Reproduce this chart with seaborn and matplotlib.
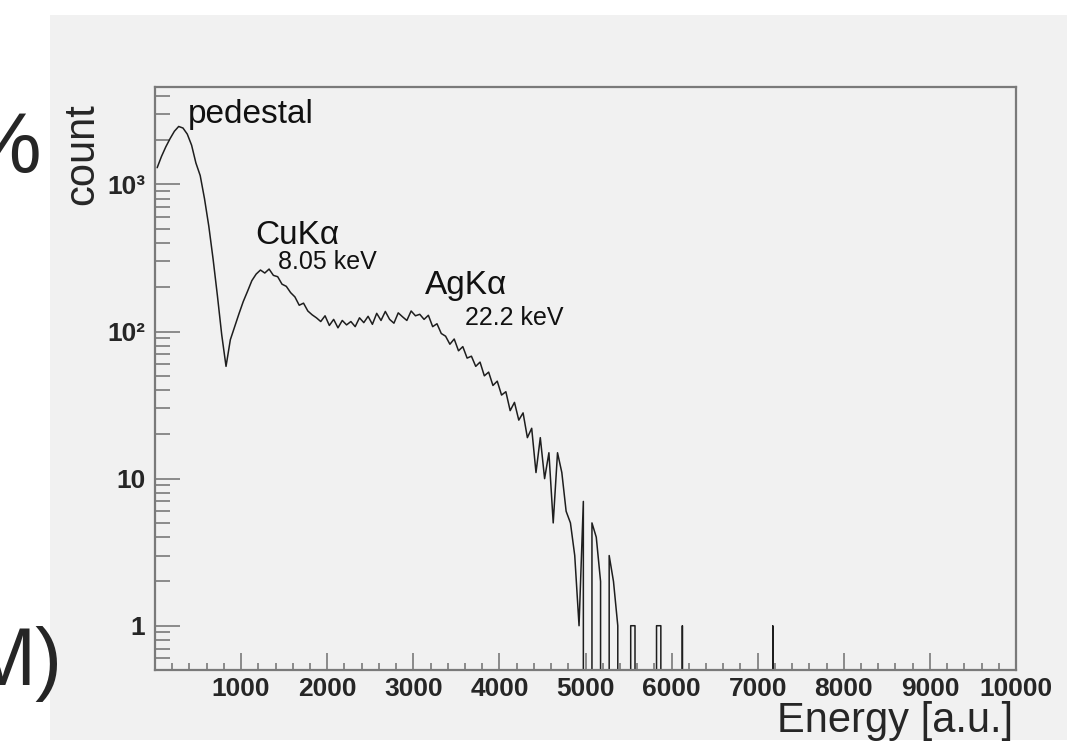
import numpy as np
import pandas as pd
import matplotlib
matplotlib.use("Agg")
import matplotlib.pyplot as plt
from matplotlib.patches import Rectangle
from matplotlib.ticker import FixedLocator, MultipleLocator, LogLocator, NullFormatter
import seaborn as sns

# ---------------- data (counts per 50-unit energy bin, 0..10000) ----------------
bin_width = 50
counts = [
    1300, 1550, 1800, 2050, 2300, 2480, 2420, 2200, 1850, 1400,   # 0-500
    1150, 800, 520, 310, 175, 95, 58, 88, 108, 132,              # 500-1000
    160, 188, 222, 246, 262, 250, 266, 241, 236, 210,            # 1000-1500
    203, 184, 172, 151, 156, 138, 130, 124, 117, 128,            # 1500-2000
    110, 121, 106, 119, 111, 117, 108, 124, 115, 127,            # 2000-2500
    112, 133, 119, 137, 121, 114, 134, 126, 119, 138,            # 2500-3000
    128, 131, 121, 129, 108, 113, 97, 93, 82, 89,                # 3000-3500
    74, 79, 66, 68, 58, 62, 50, 53, 43, 46,                      # 3500-4000
    37, 39, 29, 33, 25, 28, 19, 22, 11, 19,                      # 4000-4500
    10, 15, 5, 15, 11, 6, 5, 3, 1, 7,                            # 4500-5000
    0, 5, 4, 2, 0, 3, 2, 1, 0, 0,                                # 5000-5500
    1, 1, 0, 0, 0, 0, 1, 1, 0, 0,                                # 5500-6000
    0, 0, 1, 0, 0, 0, 0, 0, 0, 0,                                # 6000-6500
    0, 0, 0, 0, 0, 0, 0, 0, 0, 0,                                # 6500-7000
    0, 0, 0, 1, 0, 0, 0, 0, 0, 0,                                # 7000-7500
    0, 0, 0, 0, 0, 0, 0, 0, 0, 0,                                # 7500-8000
    0, 0, 0, 0, 0, 0, 0, 0, 0, 0,                                # 8000-8500
    0, 0, 0, 0, 0, 0, 0, 0, 0, 0,                                # 8500-9000
    0, 0, 0, 0, 0, 0, 0, 0, 0, 0,                                # 9000-9500
    0, 0, 0, 0, 0, 0, 0, 0, 0, 0,                                # 9500-10000
]
x_ticks = [1000, 2000, 3000, 4000, 5000, 6000, 7000, 8000, 9000, 10000]
x_tick_labels = ["1000", "2000", "3000", "4000", "5000", "6000", "7000", "8000", "9000", "10000"]
y_ticks = [1, 10, 100, 1000]
y_tick_labels = ["1", "10", "10²", "10³"]

peak_labels = ["pedestal", "CuKα", "8.05 keV", "AgKα", "22.2 keV"]
peak_label_x = [383, 1161, 1429, 3136, 3600]
peak_label_y = [2600, 391, 268, 179, 110]
peak_label_size = [24, 24, 18, 24, 18]

# ---------------- figure ----------------
sns.set_style("ticks")
plt.rcParams["font.family"] = ["Liberation Sans", "DejaVu Sans"]

W, H = 1067, 743
fig = plt.figure(figsize=(W / 100, H / 100), dpi=100)
fig.patch.set_facecolor("white")

panel = "#f1f1f1"
fig.add_artist(Rectangle((50 / W, 3 / H), 1.0, (740 - 15) / H,
                         transform=fig.transFigure, facecolor=panel,
                         edgecolor="none", zorder=-10))

ax = fig.add_axes([155 / W, 1 - 670 / H, (1016 - 155) / W, (670 - 87) / H])
ax.set_facecolor(panel)

n_bins = len(counts)
df = pd.DataFrame({"energy": np.arange(n_bins) * bin_width + bin_width / 2,
                   "count": np.asarray(counts, dtype=float)})
sns.histplot(data=df, x="energy", weights="count", binwidth=bin_width,
             binrange=(0, n_bins * bin_width), element="poly",
             fill=False, color="#1e1e1e", linewidth=1.1, ax=ax)
ax.set_yscale("log")

ax.set_xlim(0, 10000)
ax.set_ylim(0.5, 4600)

for s in ax.spines.values():
    s.set_color("#7a7a7a")
    s.set_linewidth(1.6)
    s.set_visible(True)

ax.xaxis.set_major_locator(FixedLocator(x_ticks))
ax.set_xticklabels(x_tick_labels)
ax.xaxis.set_minor_locator(MultipleLocator(200))
ax.yaxis.set_major_locator(FixedLocator(y_ticks))
ax.set_yticklabels(y_tick_labels)
ax.yaxis.set_minor_locator(LogLocator(base=10, subs=np.arange(2, 10), numticks=20))
ax.yaxis.set_minor_formatter(NullFormatter())

ax.tick_params(axis="x", which="major", direction="in", length=12, width=1.2,
               color="#7a7a7a", labelsize=19, pad=5, top=False)
ax.tick_params(axis="x", which="minor", direction="in", length=5, width=1.2,
               color="#7a7a7a", top=False)
ax.tick_params(axis="y", which="major", direction="in", length=18, width=1.2,
               color="#7a7a7a", labelsize=19, pad=7, right=False)
ax.tick_params(axis="y", which="minor", direction="in", length=11, width=1.2,
               color="#7a7a7a", right=False)
for lab in ax.get_xticklabels() + ax.get_yticklabels():
    lab.set_fontweight("bold")

ax.set_xlabel("")
ax.set_ylabel("")

fig.text(1013 / W, 1 - 732 / H, "Energy [a.u.]", fontsize=30,
         ha="right", va="baseline")
fig.text(82 / W, 1 - 103 / H, "count", fontsize=30, rotation=90,
         ha="center", va="top")

for t, xv, yv, fs in zip(peak_labels, peak_label_x, peak_label_y, peak_label_size):
    ax.text(xv, yv, t, fontsize=fs, ha="left", va="baseline", color="#111111")

# cropped slide text at the left edge
fig.text(42 / W, 1 - 173 / H, "%", fontsize=62, ha="right", va="baseline")
fig.text(62 / W, 1 - 685 / H, "M)", fontsize=58, ha="right", va="baseline")

fig.savefig("out.png", dpi=100, facecolor="white")
